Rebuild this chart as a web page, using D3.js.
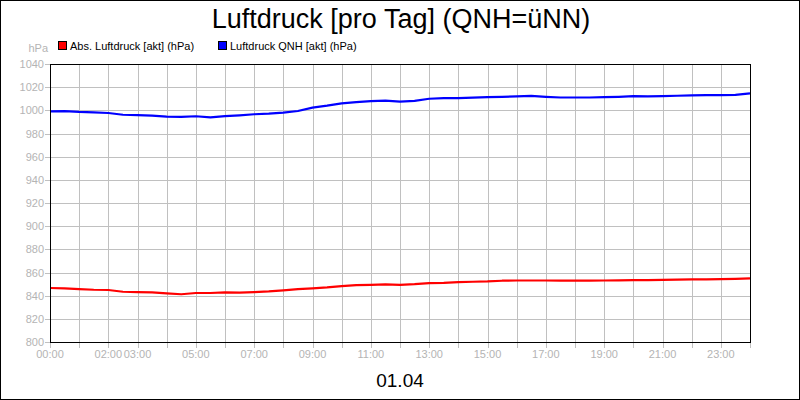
<!DOCTYPE html>
<html>
<head>
<meta charset="utf-8">
<script src="https://cdn.jsdelivr.net/npm/d3@7"></script>
<style>
  body { margin: 0; background: #fff; }
  svg { display: block; font-family: "Liberation Sans", Arial, sans-serif; }
</style>
</head>
<body>
<script>
// hours of the day (01.04)
var hours = [0, 0.5, 1, 1.5, 2, 2.5, 3, 3.5, 4, 4.5, 5, 5.5, 6, 6.5, 7, 7.5, 8, 8.5,
    9, 9.5, 10, 10.5, 11, 11.5, 12, 12.5, 13, 13.5, 14, 14.5, 15, 15.5, 16, 16.5,
    17, 17.5, 18, 18.5, 19, 19.5, 20, 20.5, 21, 21.5, 22, 22.5, 23, 23.5, 24];

// Abs. Luftdruck [akt] (hPa)
var absDruck = [846.6, 846.3, 845.7, 845.1, 844.9, 843.4, 843.1, 842.9, 842.0, 841.2,
    842.3, 842.3, 842.9, 842.6, 843.1, 843.7, 844.6, 845.7, 846.3, 847.1, 848.3, 849.1,
    849.4, 849.7, 849.4, 850.0, 850.9, 851.1, 851.7, 852.0, 852.3, 852.9, 853.1, 853.1,
    853.1, 853.0, 852.9, 852.9, 853.1, 853.2, 853.4, 853.5, 853.7, 853.9, 854.0, 854.1,
    854.3, 854.5, 854.9];

// Luftdruck QNH [akt] (hPa)
var qnhDruck = [999.1, 999.3, 998.6, 998.2, 997.7, 996.2, 995.8, 995.5, 994.6, 994.3,
    994.9, 994.0, 995.0, 995.7, 996.6, 997.1, 998.0, 999.4, 1002.3, 1004.0, 1006.0, 1007.1,
    1008.0, 1008.3, 1007.6, 1008.2, 1010.0, 1010.5, 1010.6, 1010.9, 1011.4, 1011.7, 1012.0,
    1012.4, 1011.7, 1011.1, 1011.1, 1011.1, 1011.4, 1011.7, 1012.2, 1012.0, 1012.3, 1012.6,
    1012.9, 1013.1, 1013.1, 1013.4, 1014.6];

var yTicks = [800, 820, 840, 860, 880, 900, 920, 940, 960, 980, 1000, 1020, 1040];
var xLabels = ["00:00", "02:00", "03:00", "05:00", "07:00", "09:00", "11:00",
    "13:00", "15:00", "17:00", "19:00", "21:00", "23:00"];
var xLabelHours = [0, 2, 3, 5, 7, 9, 11, 13, 15, 17, 19, 21, 23];

var series = [
    { name: "Abs. Luftdruck [akt] (hPa)", color: "#ff0000", values: absDruck },
    { name: "Luftdruck QNH [akt] (hPa)", color: "#0000ff", values: qnhDruck }
];

var width = 800,
    height = 400;

var svg = d3.select("body").append("svg")
    .attr("width", width)
    .attr("height", height);

svg.append("rect")
    .attr("x", 0.5).attr("y", 0.5)
    .attr("width", width - 1).attr("height", height - 1)
    .style("fill", "#fff")
    .style("stroke", "#000");

var x = d3.scaleLinear().domain([0, 24]).range([50, 750]);
var y = d3.scaleLinear().domain([800, 1040]).range([342, 64]);

var gridColor = "#c0c0c0",
    labelColor = "#b4b4b4";

// grid
svg.append("g").selectAll("line")
    .data(d3.range(1, 24))
    .enter().append("line")
    .attr("x1", function(d) { return Math.round(x(d)) + 0.5; })
    .attr("x2", function(d) { return Math.round(x(d)) + 0.5; })
    .attr("y1", y(1040))
    .attr("y2", y(800) + 6)
    .style("stroke", gridColor);

svg.append("g").selectAll("line")
    .data(yTicks)
    .enter().append("line")
    .attr("x1", 45)
    .attr("x2", 750)
    .attr("y1", function(d) { return Math.round(y(d)) + 0.5; })
    .attr("y2", function(d) { return Math.round(y(d)) + 0.5; })
    .style("stroke", gridColor);

// x ticks at 00:00 and 24:00
svg.append("g").selectAll("line")
    .data([0, 24])
    .enter().append("line")
    .attr("x1", function(d) { return Math.round(x(d)) + 0.5; })
    .attr("x2", function(d) { return Math.round(x(d)) + 0.5; })
    .attr("y1", y(800))
    .attr("y2", y(800) + 6)
    .style("stroke", gridColor);

// y labels
svg.append("g").selectAll("text")
    .data(yTicks)
    .enter().append("text")
    .attr("x", 44)
    .attr("y", function(d) { return y(d) + 4; })
    .attr("text-anchor", "end")
    .attr("font-size", "11px")
    .attr("fill", labelColor)
    .text(function(d) { return d; });

svg.append("text")
    .attr("x", 48)
    .attr("y", 52)
    .attr("text-anchor", "end")
    .attr("font-size", "11px")
    .attr("fill", labelColor)
    .text("hPa");

// x labels
svg.append("g").selectAll("text")
    .data(xLabelHours)
    .enter().append("text")
    .attr("x", function(d) { return x(d); })
    .attr("y", 358)
    .attr("text-anchor", "middle")
    .attr("font-size", "11px")
    .attr("fill", labelColor)
    .text(function(d, i) { return xLabels[i]; });

// lines
var line = d3.line()
    .x(function(d, i) { return x(hours[i]); })
    .y(function(d) { return y(d); });

svg.append("g").selectAll("path")
    .data(series)
    .enter().append("path")
    .attr("d", function(d) { return line(d.values); })
    .style("fill", "none")
    .style("stroke", function(d) { return d.color; })
    .style("stroke-width", 2.2)
    .style("stroke-linejoin", "round");

// plot frame
svg.append("rect")
    .attr("x", 50.5).attr("y", 64.5)
    .attr("width", 700).attr("height", 278)
    .style("fill", "none")
    .style("stroke", "#000");

// title
svg.append("text")
    .attr("x", 401)
    .attr("y", 28)
    .attr("text-anchor", "middle")
    .attr("font-size", "27px")
    .attr("fill", "#000")
    .text("Luftdruck [pro Tag] (QNH=üNN)");

svg.append("text")
    .attr("x", 400)
    .attr("y", 387)
    .attr("text-anchor", "middle")
    .attr("font-size", "19px")
    .attr("fill", "#000")
    .text("01.04");

// legend
var legendX = [58, 218];
var legend = svg.append("g").selectAll("g")
    .data(series)
    .enter().append("g")
    .attr("transform", function(d, i) { return "translate(" + legendX[i] + ",41)"; });

legend.append("rect")
    .attr("x", 0.5).attr("y", 0.5)
    .attr("width", 8).attr("height", 8)
    .style("fill", function(d) { return d.color; })
    .style("stroke", "#000");

legend.append("text")
    .attr("x", 12)
    .attr("y", 8.5)
    .attr("font-size", "11px")
    .attr("fill", "#000")
    .text(function(d) { return d.name; });
</script>
</body>
</html>
